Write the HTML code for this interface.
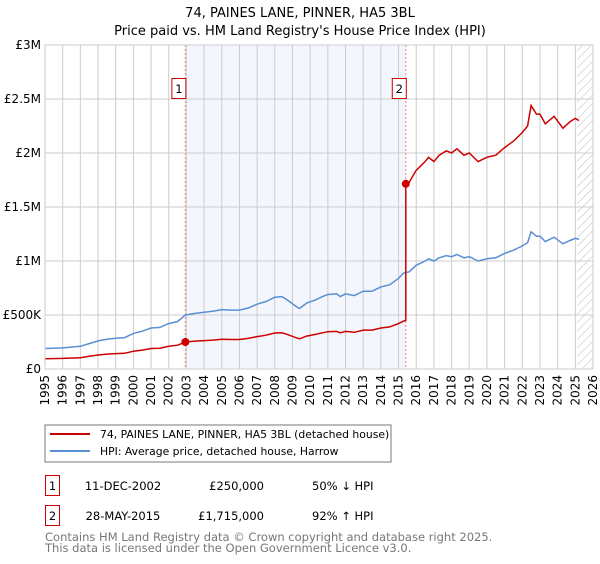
<!DOCTYPE html>
<html><head><meta charset="utf-8"><style>
body{margin:0;background:#fff;font-family:"DejaVu Sans","Liberation Sans",sans-serif;}
svg text{font-family:"DejaVu Sans","Liberation Sans",sans-serif;}
</style></head><body>
<svg id="c" width="600" height="560" xmlns="http://www.w3.org/2000/svg">
<defs><pattern id="h" width="6" height="6" patternUnits="userSpaceOnUse" patternTransform="rotate(45)"><line x1="0" y1="0" x2="0" y2="6" stroke="#bbb" stroke-width="1"/></pattern></defs>
<text x="300" y="17" text-anchor="middle" font-size="13">74, PAINES LANE, PINNER, HA5 3BL</text>
<text x="300" y="35" text-anchor="middle" font-size="13">Price paid vs. HM Land Registry's House Price Index (HPI)</text>
<g id="plot"></g>
<g>
<rect x="45" y="425" width="346" height="37" fill="#fff" stroke="#777"/>
<line x1="50" y1="434" x2="90" y2="434" stroke="#cc0000" stroke-width="2"/>
<text x="100" y="438" font-size="10.8">74, PAINES LANE, PINNER, HA5 3BL (detached house)</text>
<line x1="50" y1="451" x2="90" y2="451" stroke="#5b8fd4" stroke-width="2"/>
<text x="100" y="455" font-size="10.8">HPI: Average price, detached house, Harrow</text>
</g>
<g font-size="11.5">
<rect x="45.5" y="475.5" width="14" height="20" fill="#fff" stroke="#cc0000"/>
<text x="52.5" y="490" text-anchor="middle">1</text>
<text x="123" y="490" text-anchor="middle">11-DEC-2002</text>
<text x="264" y="490" text-anchor="end">£250,000</text>
<text x="312" y="490">50% ↓ HPI</text>
<rect x="45.5" y="505.5" width="14" height="20" fill="#fff" stroke="#cc0000"/>
<text x="52.5" y="520" text-anchor="middle">2</text>
<text x="123" y="520" text-anchor="middle">28-MAY-2015</text>
<text x="264" y="520" text-anchor="end">£1,715,000</text>
<text x="312" y="520">92% ↑ HPI</text>
</g>
<text x="45" y="541" font-size="11.5" fill="#777">Contains HM Land Registry data © Crown copyright and database right 2025.</text>
<text x="45" y="552" font-size="11.5" fill="#777">This data is licensed under the Open Government Licence v3.0.</text>
</svg>
<script>
const hpiYears=[1995,1996,1997,1997.5,1998,1998.5,1999,1999.5,2000,2000.5,2001,2001.5,2002,2002.5,2002.94,2003.5,2004,2004.5,2005,2005.5,2006,2006.5,2007,2007.5,2008,2008.4,2008.7,2009.2,2009.4,2009.8,2010.3,2010.7,2011,2011.5,2011.7,2012,2012.5,2013,2013.5,2014,2014.5,2015,2015.3,2015.6,2016,2016.5,2016.7,2017,2017.3,2017.7,2018,2018.3,2018.7,2019,2019.5,2020,2020.5,2021,2021.5,2022,2022.3,2022.5,2022.8,2023,2023.3,2023.8,2024.3,2024.7,2025,2025.2];
const hpiValues=[0.19,0.195,0.21,0.235,0.26,0.275,0.285,0.29,0.33,0.35,0.38,0.385,0.42,0.44,0.5,0.515,0.525,0.535,0.55,0.545,0.545,0.565,0.6,0.625,0.665,0.67,0.64,0.58,0.56,0.61,0.64,0.67,0.69,0.695,0.67,0.695,0.68,0.72,0.72,0.76,0.78,0.84,0.89,0.9,0.96,1.0,1.02,1.0,1.03,1.05,1.04,1.06,1.03,1.04,1.0,1.02,1.03,1.07,1.1,1.14,1.17,1.27,1.23,1.23,1.18,1.22,1.16,1.19,1.21,1.2];
const priceYears=[1995,1996,1997,1997.5,1998,1998.5,1999,1999.5,2000,2000.5,2001,2001.5,2002,2002.5,2002.94,2003.5,2004,2004.5,2005,2005.5,2006,2006.5,2007,2007.5,2008,2008.4,2008.7,2009.2,2009.4,2009.8,2010.3,2010.7,2011,2011.5,2011.7,2012,2012.5,2013,2013.5,2014,2014.5,2015,2015.3,2015.41,2015.41,2015.6,2016,2016.5,2016.7,2017,2017.3,2017.7,2018,2018.3,2018.7,2019,2019.5,2020,2020.5,2021,2021.5,2022,2022.3,2022.5,2022.8,2023,2023.3,2023.8,2024.3,2024.7,2025,2025.2];
const priceValues=[0.095,0.098,0.105,0.118,0.13,0.138,0.143,0.145,0.165,0.175,0.19,0.193,0.21,0.22,0.25,0.258,0.263,0.268,0.275,0.273,0.273,0.283,0.3,0.313,0.333,0.335,0.32,0.29,0.28,0.305,0.32,0.335,0.345,0.348,0.335,0.348,0.34,0.36,0.36,0.38,0.39,0.42,0.445,0.45,1.715,1.73,1.84,1.92,1.96,1.92,1.98,2.02,2.0,2.04,1.98,2.0,1.92,1.96,1.98,2.05,2.11,2.19,2.25,2.44,2.36,2.36,2.27,2.34,2.23,2.29,2.32,2.3];
const saleYears=[2002.94,2015.41];
const saleValues=[0.25,1.715];
const saleLabels=["1","2"];
const yTicks=[0,0.5,1,1.5,2,2.5,3];
const yTickLabels=["£0","£500K","£1M","£1.5M","£2M","£2.5M","£3M"];
const xTicks=[];for(let y=1995;y<=2026;y++)xTicks.push(y);

const X0=45,X1=593,Y0=369,Y1=45;
const sx=v=>X0+(v-1995)/(2026-1995)*(X1-X0);
const sy=v=>Y0-(v/3)*(Y0-Y1);
const NS="http://www.w3.org/2000/svg";
const g=document.getElementById('plot');
function mk(t,a){const e=document.createElementNS(NS,t);for(const k in a)e.setAttribute(k,a[k]);g.appendChild(e);return e;}
let e;
e=mk('rect',{x:sx(saleYears[0]),y:Y1,width:sx(saleYears[1])-sx(saleYears[0]),height:Y0-Y1,fill:'#eef3fc',opacity:0.7});


e=mk('rect',{x:sx(2025.1),y:Y1,width:X1-sx(2025.1),height:Y0-Y1,fill:'url(#h)'});


xTicks.forEach((t,i)=>{
 e=mk('line',{x1:sx(t),x2:sx(t),y1:Y1,y2:Y0,stroke:'#ccc','stroke-width':1});
 
 
 e=mk('text',{x:0,y:0,'font-size':12,'text-anchor':'end',transform:`translate(${sx(t)+4},${Y0+6}) rotate(-90)`});
 e.textContent=t;
 
 
});
yTicks.forEach((t,i)=>{
 e=mk('line',{x1:X0,x2:X1,y1:sy(t),y2:sy(t),stroke:'#ccc','stroke-width':1});
 
 
 e=mk('text',{x:X0-4,y:sy(t)+4,'font-size':12,'text-anchor':'end'});
 e.textContent=yTickLabels[i];
 
 
});
saleYears.forEach((s,i)=>{
 e=mk('line',{x1:sx(s),x2:sx(s),y1:Y1,y2:Y0,stroke:'#f08080','stroke-width':1,'stroke-dasharray':'2,2'});
 
 
});
const pts=(xs,vs)=>xs.map((x,i)=>sx(x).toFixed(1)+','+sy(vs[i]).toFixed(1)).join(' ');
e=mk('polyline',{points:pts(hpiYears,hpiValues),fill:'none',stroke:'#5b8fd4','stroke-width':1.5});


e=mk('polyline',{points:pts(priceYears,priceValues),fill:'none',stroke:'#cc0000','stroke-width':1.5});


saleYears.forEach((s,i)=>{
 e=mk('circle',{cx:sx(s),cy:sy(saleValues[i]),r:4,fill:'#cc0000'});
 
 
 e=mk('rect',{x:sx(s)-13.5,y:78.5,width:14,height:20,fill:'#fff',stroke:'#cc0000'});
 
 
 e=mk('text',{x:sx(s)-6.5,y:93,'font-size':11.5,'text-anchor':'middle'});
 e.textContent=saleLabels[i];
 
 
});
e=mk('rect',{x:X0,y:Y1,width:X1-X0,height:Y0-Y1,fill:'none',stroke:'#ccc'});


</script>
</body></html>
